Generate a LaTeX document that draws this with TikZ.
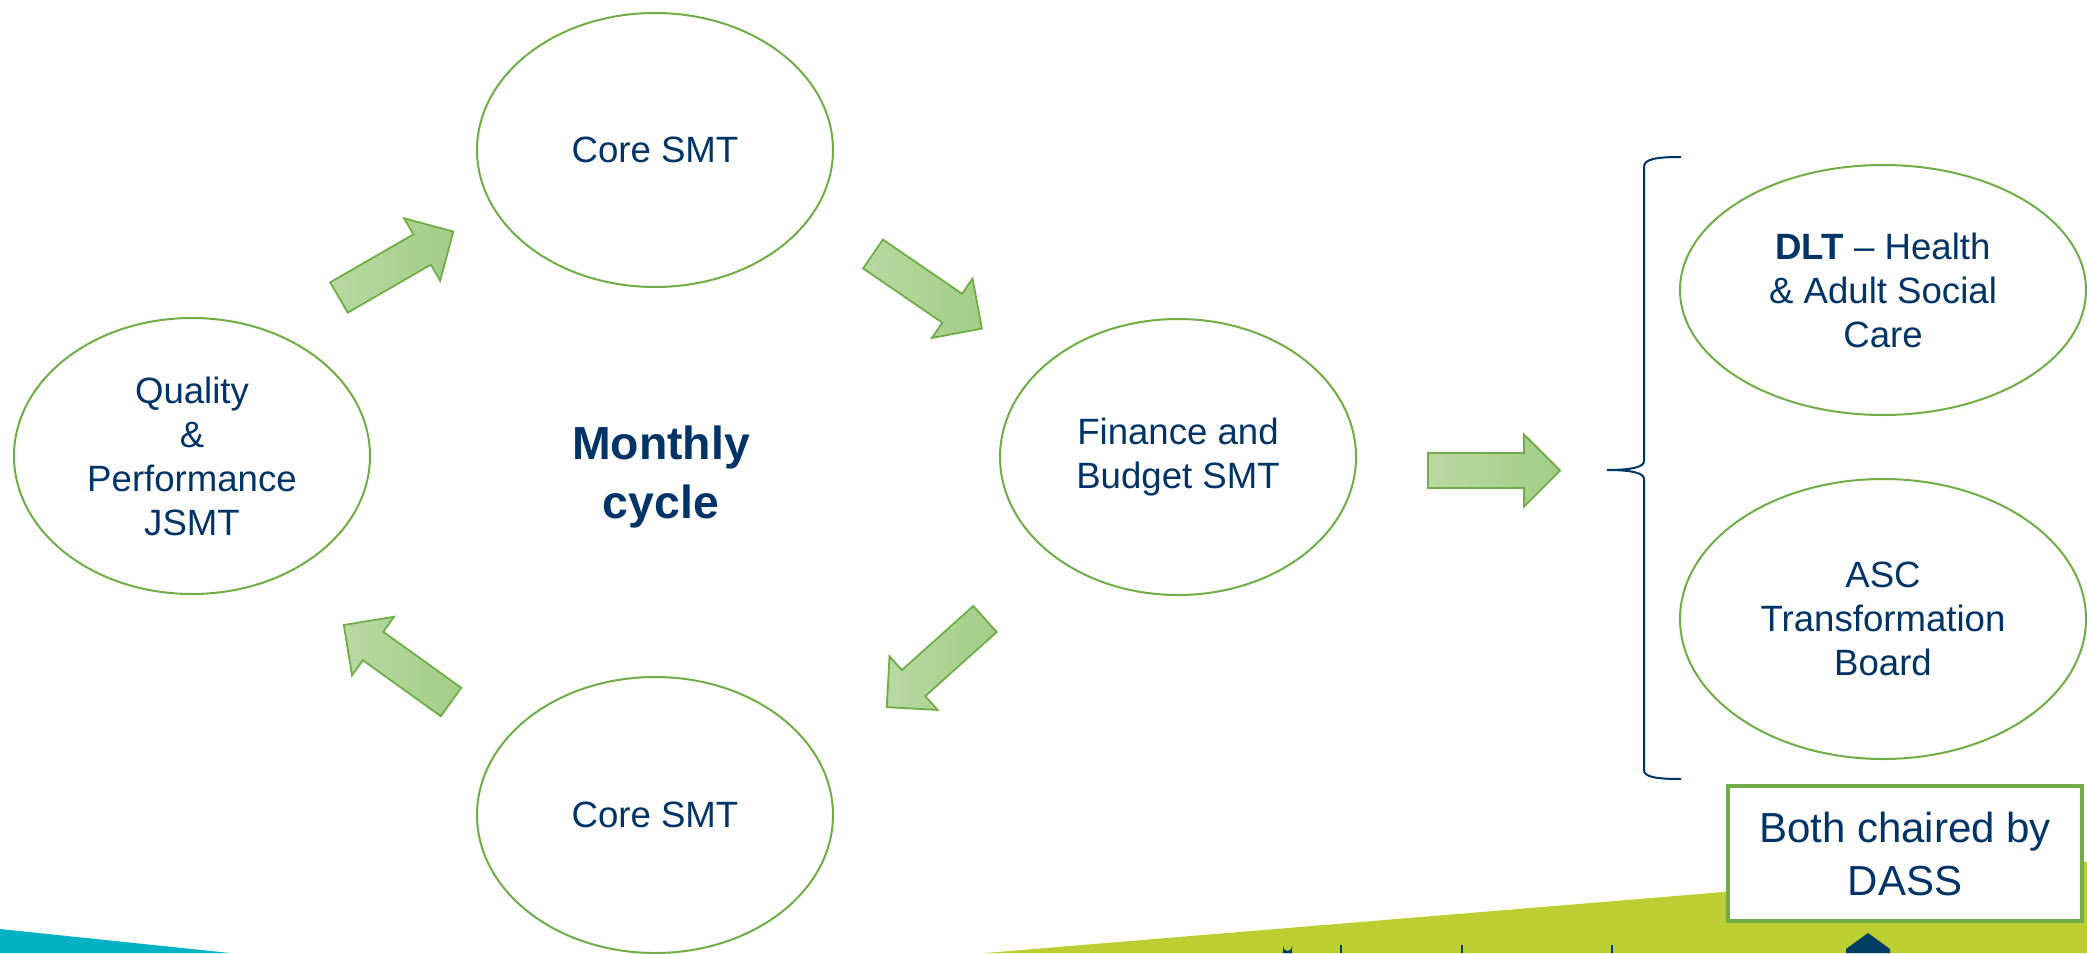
\documentclass[tikz,border=0pt]{standalone}
\usepackage{fontspec}
\setmainfont{Liberation Sans}
\usetikzlibrary{shapes.geometric}
\definecolor{txtblue}{RGB}{0,51,102}
\definecolor{egreen}{RGB}{112,173,71}
\definecolor{afillA}{RGB}{184,217,162}
\definecolor{afillB}{RGB}{162,205,134}
\definecolor{bandteal}{RGB}{0,178,194}
\definecolor{bandlime}{RGB}{188,207,50}
\definecolor{logoblue}{RGB}{0,61,100}
\newcommand{\blockarrow}[3]{%
  \begin{scope}[shift={(#1,#2)}, rotate=#3]
    \draw[blockarr] (0,-17.5) -- (96,-17.5) -- (96,-36) -- (132,0) -- (96,36) -- (96,17.5) -- (0,17.5) -- cycle;
  \end{scope}}
\begin{document}
\begin{tikzpicture}[x=0.5pt,y=-0.5pt,
  bubble/.style={ellipse, draw=egreen, line width=1pt, fill=white, inner sep=0pt,
    align=center, text=txtblue, font=\fontsize{18.3}{22}\selectfont},
  blockarr/.style={draw=egreen, line width=0.9pt, line join=miter, left color=afillA, right color=afillB},
  bracestyle/.style={draw=txtblue, line width=1pt},
  chairbox/.style={rectangle, draw=egreen, line width=1.6pt, fill=white, align=center,
    text=txtblue, font=\fontsize{21}{26.5}\selectfont, minimum width=177pt, minimum height=67.5pt, inner sep=0pt},
  titletext/.style={align=center, text=txtblue, font=\bfseries\fontsize{23.2}{29.3}\selectfont}]
\useasboundingbox (0,0) rectangle (2087,953);
% bottom bands
\fill[bandteal] (0,929) -- (230,953) -- (0,953) -- cycle;
\fill[bandlime] (985,953) -- (2087,862) -- (2087,953) -- cycle;
% small logo marks
\fill[logoblue] (1283,953) -- (1283,946) arc[start angle=180, end angle=0, x radius=4.5, y radius=5] -- (1292,953) -- cycle;
\draw[logoblue, line width=0.8pt] (1341,945) -- (1341,953);
\draw[logoblue, line width=0.8pt] (1462,945) -- (1462,953);
\draw[logoblue, line width=0.8pt] (1612,945) -- (1612,953);
\fill[logoblue] (1868,933) -- (1890,949) -- (1890,953) -- (1846,953) -- (1846,949) -- cycle;
% ellipses
\node[bubble, minimum width=178pt, minimum height=137pt] (core1) at (655,150) {Core SMT};
\node[bubble, minimum width=178pt, minimum height=138pt] (qual) at (192,456) {Quality\\\&\\Performance\\JSMT};
\node[bubble, minimum width=178pt, minimum height=138pt] (fin) at (1178,457) {Finance and\\Budget SMT};
\node[bubble, minimum width=178pt, minimum height=138pt] (core2) at (655,815) {Core SMT};
\node[bubble, minimum width=203pt, minimum height=125pt] (dlt) at (1883,290) {\textbf{DLT} \textendash{} Health\\\& Adult Social\\Care};
\node[bubble, minimum width=203pt, minimum height=140pt] (asc) at (1883,619) {ASC\\Transformation\\Board};
\node[titletext] (title) at (661,477) {Monthly\\cycle};
% block arrows
\blockarrow{339}{297.5}{30}
\blockarrow{873}{254}{-34.4}
\blockarrow{985}{619}{221.9}
\blockarrow{451}{702}{144.3}
\blockarrow{1428}{470.5}{0}
% brace
\coordinate (btop) at (1681,157);
\coordinate (btip) at (1607,470);
\coordinate (bbot) at (1681,779);
\draw[bracestyle] (btop) .. controls (1656,157) and (1644,159) .. (1644,167) -- (1644,461)
  .. controls (1644,467) and (1632,470) .. (btip)
  .. controls (1632,470) and (1644,473) .. (1644,479) -- (1644,770)
  .. controls (1644,777) and (1656,779) .. (bbot);
% chair box
\node[chairbox] (chair) at (1905,853.5) {Both chaired by\\DASS};
\end{tikzpicture}
\end{document}
